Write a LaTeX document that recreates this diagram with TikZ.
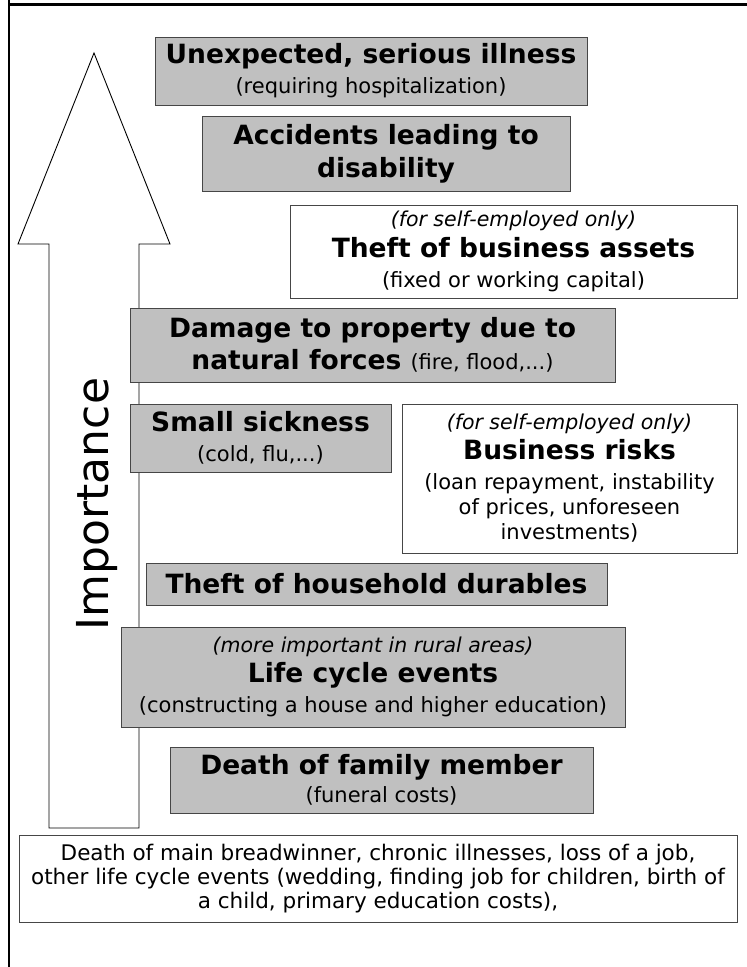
\documentclass[tikz,border=0pt]{standalone}
\usepackage{fontspec}
\setmainfont{DejaVu Sans}
\definecolor{boxgray}{RGB}{192,192,192}
\definecolor{edgegray}{RGB}{70,70,70}
\newcommand\ttlf{\fontsize{26.5}{30}\selectfont\bfseries}
\newcommand\subf{\fontsize{21}{30}\selectfont\mdseries\upshape}
\newcommand\itlf{\fontsize{20.5}{30}\selectfont\mdseries\itshape}
\begin{document}
\begin{tikzpicture}[x=1pt,y=-1pt,
  gbox/.style={draw=edgegray, line width=1pt, fill=boxgray, inner sep=0pt, align=center, font=\fontsize{21}{30}\selectfont},
  wbox/.style={draw=edgegray, line width=1pt, fill=white, inner sep=0pt, align=center, font=\fontsize{21}{30}\selectfont},
  frameline/.style={line width=2.5pt, black},
  bigarrow/.style={draw=black, line width=0.9pt, fill=white, line join=miter}]
\useasboundingbox (0,0) rectangle (747,967);
\fill[white] (0,0) rectangle (747,967);
% frame
\draw[frameline] (9,0) -- (9,967);
\draw[frameline] (9,4.5) -- (747,4.5);
% importance arrow
\draw[bigarrow] (94,53) -- (170,244) -- (139,244) -- (139,828) -- (49,828) -- (49,244) -- (18,244) -- cycle;
\node[rotate=90, inner sep=0pt] (imp) at (97,504) {\fontsize{44}{50}\selectfont Importance};
% boxes
\node[gbox, minimum width=432pt, minimum height=68pt] (b1) at (371,71)
  {\ttlf Unexpected, serious illness\\ \subf (requiring hospitalization)};
\node[gbox, minimum width=368pt, minimum height=75pt] (b2) at (386,153.5)
  {\ttlf Accidents leading to\\[3pt] \ttlf disability};
\node[wbox, minimum width=447pt, minimum height=93pt] (b3) at (513.5,251.5)
  {\itlf (for self-employed only)\\[1pt] \ttlf Theft of business assets\\ \subf (fixed or working capital)};
\node[gbox, minimum width=485pt, minimum height=74pt] (b4) at (372.5,345)
  {\ttlf Damage to property due to\\[2pt] \ttlf natural forces {\subf (fire, flood,...)}};
\node[gbox, minimum width=261pt, minimum height=68pt] (b5) at (260.5,438)
  {\ttlf Small sickness\\ \subf (cold, flu,...)};
\node[wbox, minimum width=335pt, minimum height=149pt] (b6) at (569.5,478.5)
  {\itlf (for self-employed only)\\ \ttlf Business risks\\ \subf (loan repayment, instability\\[-5pt] \subf of prices, unforeseen\\[-5pt] \subf investments)};
\node[gbox, minimum width=461pt, minimum height=42pt] (b7) at (376.5,584)
  {\ttlf Theft of household durables};
\node[gbox, minimum width=504pt, minimum height=100pt] (b8) at (373,677)
  {\itlf (more important in rural areas)\\ \ttlf Life cycle events\\ \subf (constructing a house and higher education)};
\node[gbox, minimum width=423pt, minimum height=66pt] (b9) at (381.5,780)
  {\ttlf Death of family member\\[-2pt] \subf (funeral costs)};
\node[wbox, minimum width=718pt, minimum height=87pt, font=\fontsize{21.5}{24}\selectfont] (b10) at (378,878.5)
  {\fontsize{21.5}{24}\selectfont Death of main breadwinner, chronic illnesses, loss of a job,\\ \fontsize{21.5}{24}\selectfont other life cycle events (wedding, finding job for children, birth of\\ \fontsize{21.5}{24}\selectfont a child, primary education costs),};
\end{tikzpicture}
\end{document}
